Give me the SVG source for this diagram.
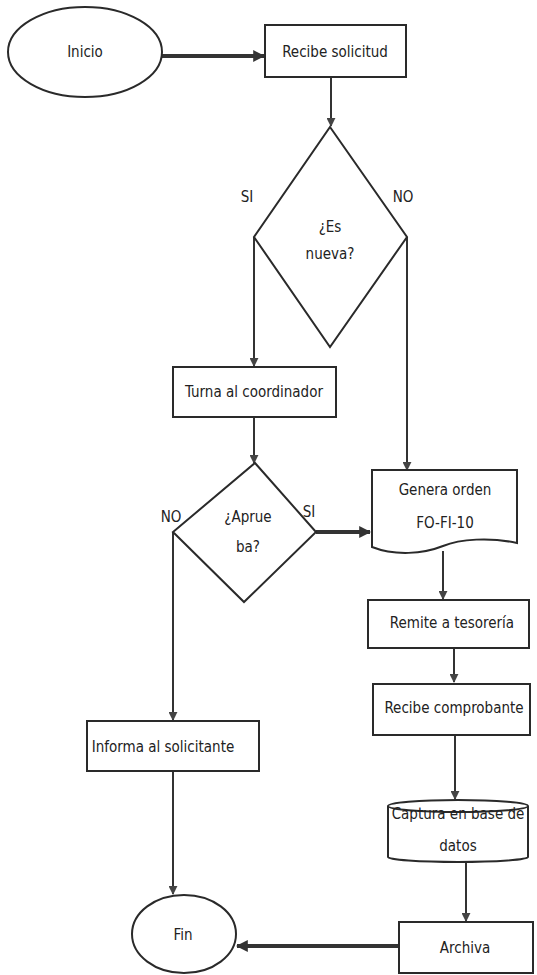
<svg xmlns="http://www.w3.org/2000/svg" width="537" height="975" viewBox="0 0 537 975">
<defs>
<style>
.s{fill:#fff;stroke:#2a2a2a;stroke-width:2}
.t{font-family:"Liberation Sans Narrow","DejaVu Sans Condensed","Liberation Sans",sans-serif;font-size:15px;fill:#222;text-anchor:middle}
.c{fill:none;stroke:#333;stroke-width:2}
.ck{fill:none;stroke:#333;stroke-width:4}
</style>
<marker id="ah" viewBox="0 0 10 10" refX="9" refY="5" markerWidth="4.5" markerHeight="4.5" orient="auto" markerUnits="strokeWidth">
<path d="M0,0 L10,5 L0,10 Z" fill="#444"/>
</marker>
<marker id="ahk" viewBox="0 0 10 10" refX="9" refY="5" markerWidth="3" markerHeight="3" orient="auto" markerUnits="strokeWidth">
<path d="M0,0 L10,5 L0,10 Z" fill="#333"/>
</marker>
</defs>
<rect width="537" height="975" fill="#fff"/>
<g id="connectors">
<line class="ck" x1="162" y1="56" x2="264" y2="56" marker-end="url(#ahk)"/>
<line class="c" x1="331" y1="77" x2="331" y2="126" marker-end="url(#ah)"/>
<line class="c" x1="254" y1="237" x2="254" y2="366" marker-end="url(#ah)"/>
<line class="c" x1="407" y1="237" x2="407" y2="470" marker-end="url(#ah)"/>
<line class="c" x1="254" y1="417" x2="254" y2="463" marker-end="url(#ah)"/>
<line class="ck" x1="316" y1="532" x2="370" y2="532" marker-end="url(#ahk)"/>
<line class="c" x1="173" y1="532" x2="173" y2="720" marker-end="url(#ah)"/>
<line class="c" x1="443" y1="551" x2="443" y2="599" marker-end="url(#ah)"/>
<line class="c" x1="454" y1="648" x2="454" y2="682" marker-end="url(#ah)"/>
<line class="c" x1="455" y1="735" x2="455" y2="799" marker-end="url(#ah)"/>
<line class="c" x1="466" y1="862" x2="466" y2="921" marker-end="url(#ah)"/>
<line class="ck" x1="399" y1="946" x2="237" y2="946" marker-end="url(#ahk)"/>
<line class="c" x1="173" y1="771" x2="173" y2="894" marker-end="url(#ah)"/>
</g>
<g id="inicio">
<ellipse class="s" cx="85" cy="52" rx="77" ry="45"/>
<text class="t" x="85" y="57">Inicio</text>
</g>
<g id="recibe-solicitud">
<rect class="s" x="265" y="25" width="141" height="52"/>
<text class="t" x="335" y="57">Recibe solicitud</text>
</g>
<g id="es-nueva">
<polygon class="s" points="330,127 407,237 330,347 254,237"/>
<text class="t" x="330" y="232">¿Es</text>
<text class="t" x="330" y="259">nueva?</text>
</g>
<g id="labels">
<text class="t" x="247" y="202">SI</text>
<text class="t" x="403" y="202">NO</text>
<text class="t" x="171" y="522">NO</text>
<text class="t" x="309" y="517">SI</text>
</g>
<g id="turna">
<rect class="s" x="173" y="367" width="163" height="50"/>
<text class="t" x="254" y="397">Turna al coordinador</text>
</g>
<g id="aprueba">
<polygon class="s" points="255,463 316,532 244,602 173,532"/>
<text class="t" x="248" y="522">¿Aprue</text>
<text class="t" x="248" y="552">ba?</text>
</g>
<g id="genera-orden">
<path class="s" d="M372,470 H517 V543 C490,537 460,539 443,546 C423,554 395,556 372,547 Z"/>
<text class="t" x="445" y="495">Genera orden</text>
<text class="t" x="445" y="528">FO-FI-10</text>
</g>
<g id="remite">
<rect class="s" x="368" y="600" width="161" height="48"/>
<text class="t" x="452" y="628">Remite a tesorería</text>
</g>
<g id="recibe-comprobante">
<rect class="s" x="373" y="684" width="157" height="51"/>
<text class="t" x="454" y="713">Recibe comprobante</text>
</g>
<g id="informa">
<rect class="s" x="87" y="721" width="172" height="50"/>
<text class="t" x="163" y="752">Informa al solicitante</text>
</g>
<g id="captura">
<path class="s" d="M388,806 V857 A70,5 0 0 0 528,857 V806"/>
<ellipse class="s" cx="458" cy="806" rx="70" ry="6"/>
<text class="t" x="458" y="819">Captura en base de</text>
<text class="t" x="458" y="851">datos</text>
</g>
<g id="archiva">
<rect class="s" x="399" y="922" width="134" height="51"/>
<text class="t" x="465" y="953">Archiva</text>
</g>
<g id="fin">
<ellipse class="s" cx="184" cy="934" rx="52" ry="39"/>
<text class="t" x="183" y="940">Fin</text>
</g>
</svg>
